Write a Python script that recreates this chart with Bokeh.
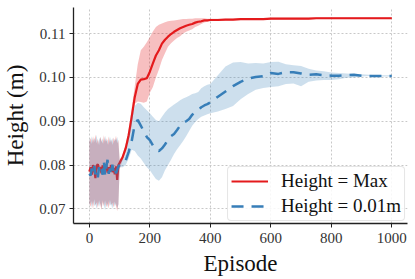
from bokeh.plotting import figure
from bokeh.models import Legend, LegendItem, Range1d, FixedTicker, PrintfTickFormatter
from bokeh.embed import file_html
from bokeh.resources import INLINE

# ---- data ----
ep_early = list(range(0, 101, 4))
ep_mid = list(range(110, 401, 10))
ep_late = list(range(425, 1001, 25))

red_early = [0.0785, 0.0795, 0.0778, 0.0800, 0.0790, 0.0770, 0.0798, 0.0802, 0.0789, 0.0796,
             0.0781, 0.0799, 0.0786, 0.0792, 0.0801, 0.0783, 0.0795, 0.0788, 0.0800, 0.0784,
             0.0793, 0.0779, 0.0797, 0.0766, 0.0800, 0.0805]
red_mid = [0.0818, 0.0838, 0.0868, 0.0910, 0.0955, 0.0985, 0.0995, 0.0996, 0.0998, 0.1013,
           0.1032, 0.1050, 0.1062, 0.1077, 0.1086, 0.1093, 0.1099, 0.1104, 0.1108, 0.1112,
           0.1115, 0.1118, 0.1120, 0.1122, 0.1125, 0.1127, 0.1128, 0.1130, 0.1130, 0.1131]
red_late = [0.1131, 0.1132, 0.1132, 0.1133, 0.1133, 0.1133, 0.1133, 0.1134, 0.1134, 0.1134,
            0.1134, 0.1134, 0.1134, 0.1135, 0.1135, 0.1135, 0.1135, 0.1135, 0.1135, 0.1135,
            0.1135, 0.1135, 0.1135, 0.1135]

red_lo_early = [0.0712, 0.0705, 0.0718, 0.0700, 0.0722, 0.0708, 0.0715, 0.0702, 0.0720, 0.0710,
                0.0698, 0.0716, 0.0706, 0.0719, 0.0704, 0.0713, 0.0701, 0.0721, 0.0709, 0.0714,
                0.0703, 0.0717, 0.0707, 0.0695, 0.0711, 0.0790]
red_hi_early = [0.0855, 0.0862, 0.0848, 0.0866, 0.0852, 0.0870, 0.0850, 0.0860, 0.0845, 0.0864,
                0.0856, 0.0849, 0.0868, 0.0853, 0.0861, 0.0847, 0.0865, 0.0851, 0.0859, 0.0846,
                0.0863, 0.0854, 0.0867, 0.0850, 0.0858, 0.0812]
red_lo_mid = [0.0812, 0.0828, 0.0855, 0.0892, 0.0940, 0.0945, 0.0944, 0.0942, 0.0945, 0.0965,
              0.0978, 0.1000, 0.1018, 0.1040, 0.1055, 0.1070, 0.1078, 0.1084, 0.1090, 0.1094,
              0.1100, 0.1104, 0.1107, 0.1110, 0.1115, 0.1118, 0.1122, 0.1125, 0.1127, 0.1129]
red_hi_mid = [0.0824, 0.0848, 0.0882, 0.0930, 0.0980, 0.1030, 0.1062, 0.1070, 0.1080, 0.1092,
              0.1105, 0.1115, 0.1120, 0.1123, 0.1126, 0.1128, 0.1129, 0.1130, 0.1131, 0.1132,
              0.1133, 0.1133, 0.1134, 0.1134, 0.1135, 0.1135, 0.1135, 0.1135, 0.1134, 0.1134]
red_lo_late = [0.1129, 0.1130, 0.1130, 0.1131, 0.1131, 0.1131, 0.1131, 0.1132, 0.1132, 0.1132,
               0.1132, 0.1132, 0.1132, 0.1133, 0.1133, 0.1133, 0.1133, 0.1133, 0.1133, 0.1133,
               0.1133, 0.1133, 0.1133, 0.1133]
red_hi_late = [0.1134, 0.1134, 0.1134, 0.1135, 0.1135, 0.1135, 0.1135, 0.1136, 0.1136, 0.1136,
               0.1136, 0.1136, 0.1136, 0.1137, 0.1137, 0.1137, 0.1137, 0.1137, 0.1137, 0.1137,
               0.1137, 0.1137, 0.1137, 0.1137]

blue_early = [0.0780, 0.0776, 0.0792, 0.0781, 0.0798, 0.0779, 0.0788, 0.0772, 0.0795, 0.0783,
              0.0790, 0.0778, 0.0808, 0.0776, 0.0795, 0.0812, 0.0780, 0.0792, 0.0777, 0.0801,
              0.0785, 0.0794, 0.0781, 0.0789, 0.0796, 0.0800]
blue_mid = [0.0804, 0.0810, 0.0830, 0.0855, 0.0893, 0.0903, 0.0890, 0.0877, 0.0864, 0.0857,
            0.0845, 0.0836, 0.0832, 0.0838, 0.0847, 0.0858, 0.0866, 0.0871, 0.0880, 0.0890,
            0.0896, 0.0900, 0.0905, 0.0915, 0.0920, 0.0926, 0.0932, 0.0936, 0.0939, 0.0943]
blue_late = [0.0956, 0.0968, 0.0980, 0.0990, 0.0997, 0.1001, 0.1003, 0.1010, 0.1008, 0.1012,
             0.1012, 0.1009, 0.1006, 0.1007, 0.1005, 0.1004, 0.1004, 0.1005, 0.1006, 0.1004,
             0.1003, 0.1003, 0.1003, 0.1003]

blue_lo_early = [0.0708, 0.0716, 0.0703, 0.0719, 0.0706, 0.0712, 0.0699, 0.0717, 0.0705, 0.0714,
                 0.0702, 0.0720, 0.0709, 0.0697, 0.0715, 0.0704, 0.0718, 0.0707, 0.0711, 0.0700,
                 0.0716, 0.0705, 0.0713, 0.0702, 0.0710, 0.0795]
blue_hi_early = [0.0860, 0.0851, 0.0866, 0.0849, 0.0862, 0.0855, 0.0869, 0.0847, 0.0858, 0.0864,
                 0.0852, 0.0861, 0.0848, 0.0867, 0.0854, 0.0859, 0.0846, 0.0865, 0.0853, 0.0862,
                 0.0849, 0.0860, 0.0856, 0.0864, 0.0851, 0.0810]
blue_lo_mid = [0.0795, 0.0800, 0.0815, 0.0835, 0.0832, 0.0822, 0.0815, 0.0805, 0.0795, 0.0788,
               0.0778, 0.0768, 0.0764, 0.0772, 0.0788, 0.0800, 0.0812, 0.0825, 0.0836, 0.0845,
               0.0855, 0.0866, 0.0878, 0.0890, 0.0898, 0.0905, 0.0910, 0.0913, 0.0916, 0.0918]
blue_hi_mid = [0.0812, 0.0825, 0.0860, 0.0905, 0.0935, 0.0942, 0.0940, 0.0932, 0.0925, 0.0918,
               0.0910, 0.0903, 0.0900, 0.0910, 0.0920, 0.0928, 0.0933, 0.0938, 0.0943, 0.0948,
               0.0952, 0.0955, 0.0958, 0.0962, 0.0964, 0.0967, 0.0975, 0.0980, 0.0983, 0.0985]
blue_lo_late = [0.0922, 0.0928, 0.0935, 0.0950, 0.0962, 0.0972, 0.0976, 0.0978, 0.0980, 0.0985,
                0.0986, 0.0980, 0.0990, 0.0993, 0.0994, 0.0994, 0.0996, 0.0999, 0.1000, 0.1002,
                0.1003, 0.1002, 0.1002, 0.1002]
blue_hi_late = [0.1005, 0.1025, 0.1034, 0.1035, 0.1032, 0.1033, 0.1032, 0.1035, 0.1036, 0.1030,
                0.1028, 0.1026, 0.1020, 0.1016, 0.1014, 0.1011, 0.1010, 0.1009, 0.1008, 0.1007,
                0.1006, 0.1005, 0.1005, 0.1005]

x_ticks = [0, 200, 400, 600, 800, 1000]
y_ticks = [0.07, 0.08, 0.09, 0.10, 0.11]
labels = ["Height = Max", "Height = 0.01m"]

episodes = ep_early + ep_mid + ep_late
red = red_early + red_mid + red_late
red_lo = red_lo_early + red_lo_mid + red_lo_late
red_hi = red_hi_early + red_hi_mid + red_hi_late
blue = blue_early + blue_mid + blue_late
blue_lo = blue_lo_early + blue_lo_mid + blue_lo_late
blue_hi = blue_hi_early + blue_hi_mid + blue_hi_late

RED = "#e41a1c"
BLUE = "#377eb8"
FONT = "Liberation Serif"

p = figure(width=408, height=278, output_backend="svg", toolbar_location=None,
           x_range=Range1d(-52.5, 1052), y_range=Range1d(0.06667, 0.11595),
           min_border_left=70, min_border_right=1, min_border_top=7, min_border_bottom=53)
p.outline_line_color = None
p.background_fill_color = "white"

p.varea(x=episodes, y1=red_lo, y2=red_hi, fill_color=RED, fill_alpha=0.28)
r_red = p.line(episodes, red, line_color=RED, line_width=2.2)
p.varea(x=episodes, y1=blue_lo, y2=blue_hi, fill_color=BLUE, fill_alpha=0.25)
r_blue = p.line(episodes, blue, line_color=BLUE, line_width=2.5, line_dash="12 8")

for ax in (p.xaxis[0], p.yaxis[0]):
    ax.axis_line_color = "#222222"
    ax.axis_line_width = 1.3
    ax.major_tick_line_color = "#222222"
    ax.major_tick_out = 4
    ax.major_tick_in = 0
    ax.minor_tick_line_color = None
    ax.major_label_text_font = FONT
    ax.major_label_text_font_size = "15px"
    ax.major_label_text_color = "#333333"
    ax.axis_label_text_font = FONT
    ax.axis_label_text_font_size = "23px"
    ax.axis_label_text_font_style = "normal"
    ax.axis_label_text_color = "#111111"

p.xaxis.ticker = FixedTicker(ticks=x_ticks)
p.yaxis.ticker = FixedTicker(ticks=y_ticks)
p.yaxis.formatter = PrintfTickFormatter(format="%.2f")
p.xaxis.axis_label = "Episode"
p.yaxis.axis_label = "Height (m)"
p.xaxis.major_label_standoff = 5
p.yaxis.major_label_standoff = 4
p.xaxis.axis_label_standoff = 5
p.yaxis.axis_label_standoff = 8

p.xgrid.grid_line_color = "#c8c8c8"
p.ygrid.grid_line_color = "#c8c8c8"
p.xgrid.grid_line_dash = "2 2"
p.ygrid.grid_line_dash = "2 2"
p.xgrid.grid_line_width = 1
p.ygrid.grid_line_width = 1

legend = Legend(items=[LegendItem(label=labels[0], renderers=[r_red]),
                       LegendItem(label=labels[1], renderers=[r_blue])],
                location="bottom_right")
legend.margin = 2
legend.padding = 3
legend.spacing = 3
legend.glyph_width = 37
legend.glyph_height = 20
legend.label_height = 20
legend.label_standoff = 13
legend.label_text_font = FONT
legend.label_text_font_size = "19px"
legend.label_text_color = "#111111"
legend.border_line_color = "#cccccc"
legend.border_line_width = 1
legend.background_fill_alpha = 0.85
try:
    legend.border_radius = 4
except Exception:
    pass
p.add_layout(legend)

open("out.html", "w").write(file_html(p, INLINE))
